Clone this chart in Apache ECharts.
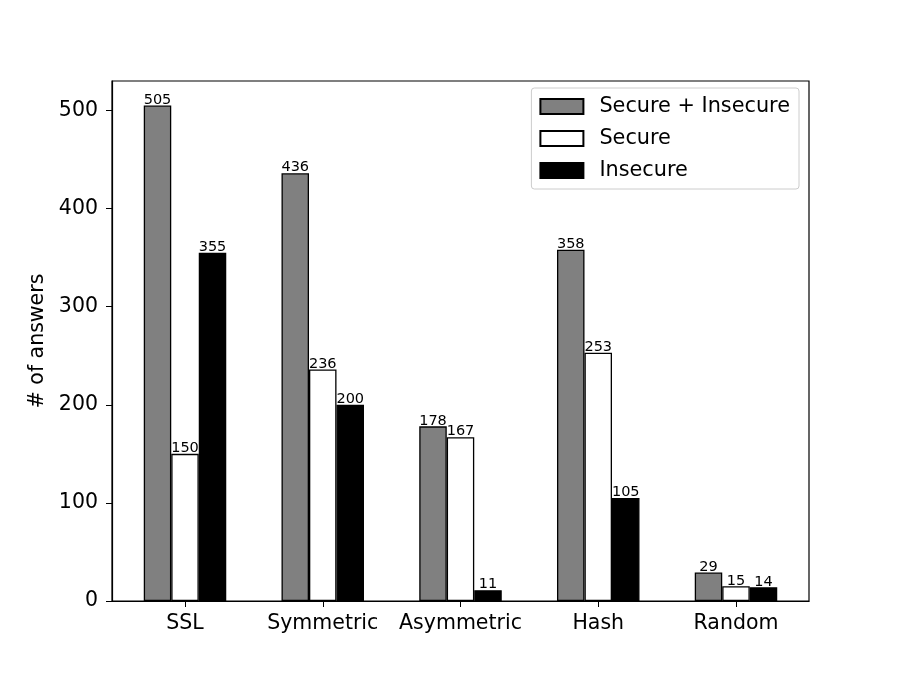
<!DOCTYPE html>
<html>
<head>
<meta charset="utf-8">
<script src="https://cdn.jsdelivr.net/npm/echarts@6/dist/echarts.min.js"></script>
<style>
  html, body { margin: 0; padding: 0; background: #fff; }
  #chart { width: 900px; height: 675px; }
</style>
</head>
<body>
<div id="chart"></div>
<script>
var categories = ['SSL', 'Symmetric', 'Asymmetric', 'Hash', 'Random'];
var bothValues = [505, 436, 178, 358, 29];
var secureValues = [150, 236, 167, 253, 15];
var insecureValues = [355, 200, 11, 105, 14];
var yTicks = [0, 100, 200, 300, 400, 500];
var xTicks = [0, 1, 2, 3, 4];

var font = 'DejaVu Sans';

function makeSeries(name, values, color) {
  return {
    name: name,
    type: 'bar',
    data: values.map(function (v, i) { return [i, v]; }),
    barWidth: 27.5,
    barGap: '0%',
    itemStyle: { color: color, borderColor: '#000', borderWidth: 1.3 },
    label: {
      show: true,
      position: 'top',
      distance: -2,
      color: '#000',
      fontFamily: font,
      fontSize: 14.5,
      formatter: function (p) { return p.value[1]; }
    }
  };
}

var myChart = echarts.init(document.getElementById('chart'));
myChart.setOption({
  animation: false,
  backgroundColor: '#fff',
  grid: { left: 112, right: 91, top: 81, bottom: 74, show: true, borderColor: '#000', borderWidth: 1.2, backgroundColor: 'transparent' },
  legend: {
    right: 101,
    top: 88,
    orient: 'vertical',
    icon: 'rect',
    itemWidth: 43,
    itemHeight: 15,
    itemGap: 11,
    padding: [8, 9, 8, 8],
    borderColor: '#cccccc',
    borderWidth: 1,
    borderRadius: 3,
    backgroundColor: '#fff',
    textStyle: { fontFamily: font, fontSize: 20.8, lineHeight: 20, color: '#000', padding: [0, 0, 0, 11] },
    data: ['Secure + Insecure', 'Secure', 'Insecure']
  },
  xAxis: {
    type: 'value',
    min: -0.53,
    max: 4.53,
    splitLine: { show: false },
    axisLine: { onZero: false, lineStyle: { color: '#000', width: 1.2 } },
    axisTick: { show: true, length: 6, customValues: xTicks, lineStyle: { color: '#000' } },
    axisLabel: {
      color: '#000', fontFamily: font, fontSize: 20.5, margin: 12,
      customValues: xTicks,
      formatter: function (v) { return categories[Math.round(v)]; }
    }
  },
  yAxis: {
    type: 'value',
    min: 0,
    max: 530,
    name: '# of answers',
    nameLocation: 'middle',
    nameGap: 61,
    nameTextStyle: { color: '#000', fontFamily: font, fontSize: 20.5 },
    axisLine: { show: true, onZero: false, lineStyle: { color: '#000', width: 1.2 } },
    axisTick: { show: true, length: 6, customValues: yTicks, lineStyle: { color: '#000' } },
    axisLabel: { color: '#000', fontFamily: font, fontSize: 20.5, margin: 14, customValues: yTicks },
    splitLine: { show: false }
  },
  series: [
    makeSeries('Secure + Insecure', bothValues, '#808080'),
    makeSeries('Secure', secureValues, '#ffffff'),
    makeSeries('Insecure', insecureValues, '#000000')
  ]
});
</script>
</body>
</html>
